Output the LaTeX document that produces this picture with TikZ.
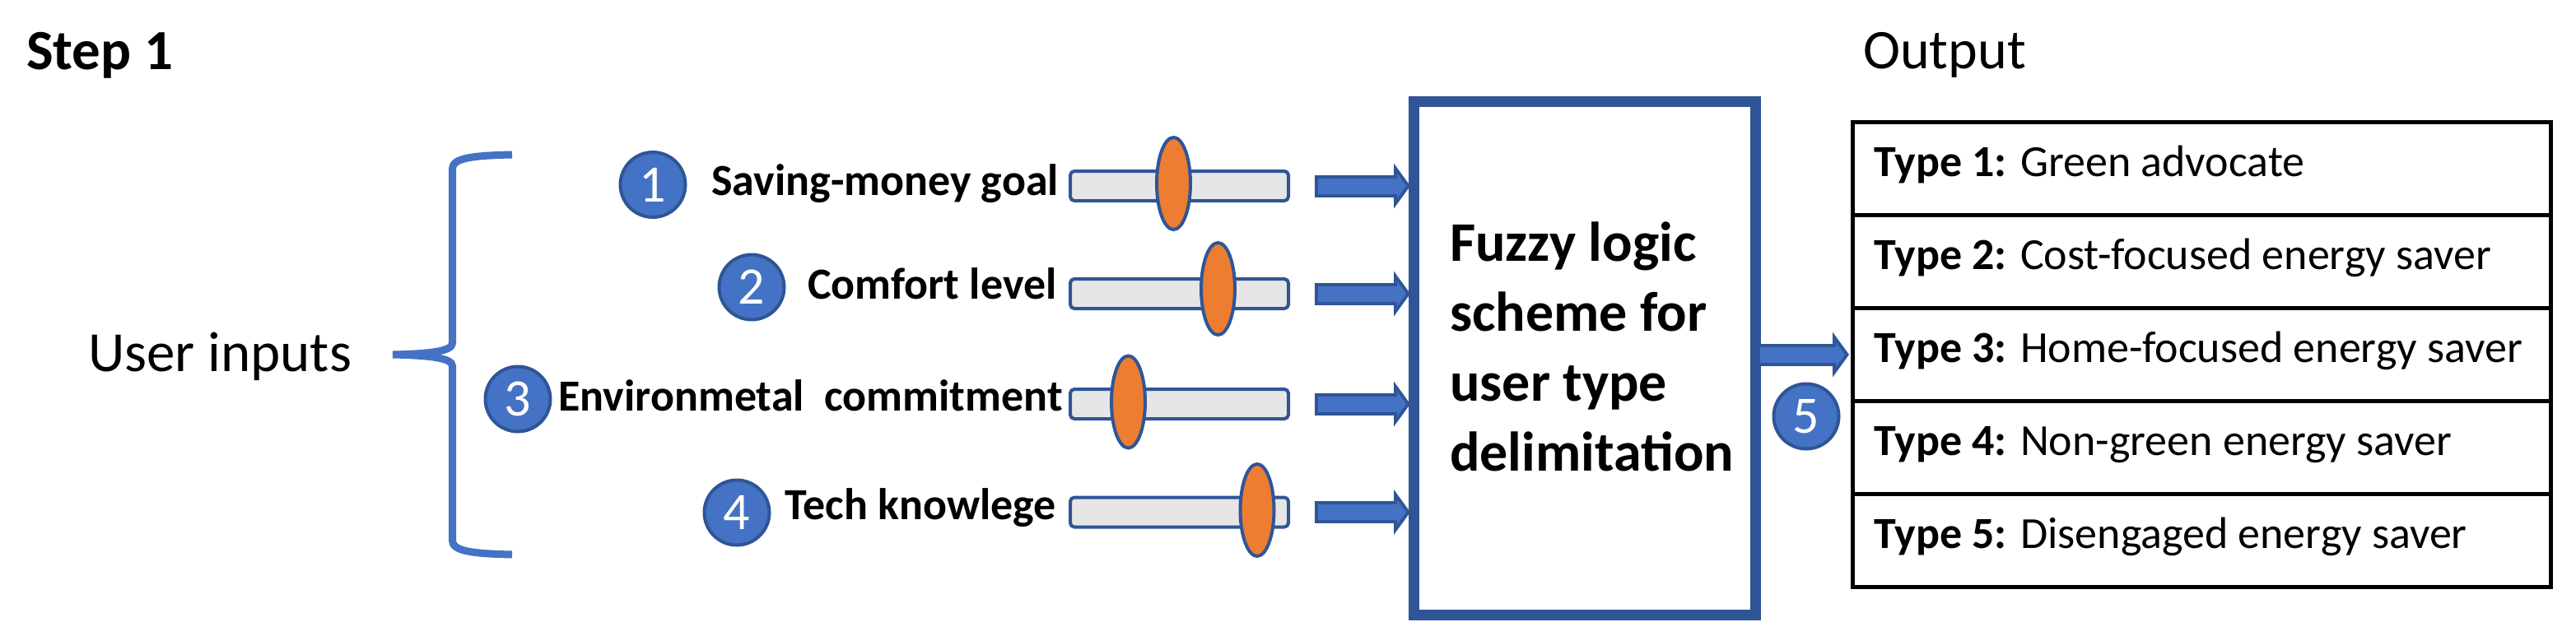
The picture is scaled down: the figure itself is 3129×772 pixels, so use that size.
\documentclass[tikz,border=0pt]{standalone}
\usepackage{fontspec}
\setmainfont{Carlito}
\usetikzlibrary{shapes.geometric,arrows.meta,calc}
\definecolor{myblue}{HTML}{4472C4}
\definecolor{dkblue}{HTML}{2F5597}
\definecolor{myorange}{HTML}{ED7D31}
\definecolor{mygray}{HTML}{E7E6E6}
\begin{document}
\begin{tikzpicture}[x=1pt,y=-1pt,
  numcirc/.style={circle, fill=myblue, draw=dkblue, line width=4pt, minimum size=79pt, inner sep=0pt, text=white, font=\fontsize{64}{70}\selectfont},
  lbl/.style={anchor=base west, inner sep=0pt, font=\fontsize{54}{60}\selectfont\bfseries},
  bigtxt/.style={anchor=base west, inner sep=0pt, font=\fontsize{69}{80}\selectfont},
  sliderbar/.style={rectangle, rounded corners=5pt, fill=mygray, draw=dkblue, line width=4pt, minimum width=265pt, minimum height=36pt, inner sep=0pt, outer sep=2pt},
  knob/.style={ellipse, fill=myorange, draw=dkblue, line width=4pt, minimum width=41pt, minimum height=112pt, inner sep=0pt},
  fuzzybox/.style={rectangle, draw=dkblue, line width=13pt, minimum width=415pt, minimum height=624pt, inner sep=0pt, outer sep=6.5pt},
  trow/.style={rectangle, draw=black, line width=5pt, minimum height=113pt, inner xsep=26pt, inner ysep=0pt, outer sep=2.5pt, text height=36pt, text depth=18pt, font=\fontsize{54}{60}\selectfont},
  arrout/.style={line width=27pt, draw=dkblue, -{Triangle[length=20pt,width=55pt,line width=0pt]}},
  arrin/.style={line width=19pt, draw=myblue, -{Triangle[length=11pt,width=30pt,line width=0pt]}},
  bracestyle/.style={draw=myblue, line width=9pt, line cap=butt}
]
\useasboundingbox (0,0) rectangle (3129,772);

% titles
\node[bigtxt, font=\fontsize{69}{80}\selectfont\bfseries] (step) at (32,84) {Step 1};
\node[bigtxt] (userin) at (107,451) {User inputs};
\node[bigtxt, font=\fontsize{68}{80}\selectfont] (outlbl) at (2263,83) {Output};

% brace
\draw[bracestyle] (622,188) .. controls (575,189) and (549.5,192) .. (549.5,205) -- (549.5,417)
  .. controls (549.5,427) and (522,430) .. (477,431)
  (477,431) .. controls (522,432) and (549.5,435) .. (549.5,445) -- (549.5,657)
  .. controls (549.5,670) and (575,673) .. (622,674);

% numbered circles
\node[numcirc] (c1) at (793,224.5) {1};
\node[numcirc] (c2) at (913,349) {2};
\node[numcirc] (c3) at (629,485) {3};
\node[numcirc] (c4) at (895,623) {4};
\node[numcirc] (c5) at (2194,506) {5};

% labels
\node[lbl] (l1) at (864,237) {Saving-money goal};
\node[lbl] (l2) at (981,363) {Comfort level};
\node[lbl] (l3) at (678,499) {Environmetal\ \ commitment};
\node[lbl] (l4) at (953,631) {Tech knowlege};

% sliders
\node[sliderbar] (b1) at (1432.5,226) {};
\node[sliderbar] (b2) at (1432.5,357) {};
\node[sliderbar] (b3) at (1432.5,491) {};
\node[sliderbar] (b4) at (1432.5,622.5) {};
\node[knob] (k1) at (1425.5,223) {};
\node[knob] (k2) at (1479.5,351) {};
\node[knob] (k3) at (1370.5,488.5) {};
\node[knob] (k4) at (1527,620) {};

% fuzzy box
\node[fuzzybox] (fuzzy) at (1925,435.5) {};
\node[anchor=west, inner sep=0pt, align=left, font=\fontsize{68}{85}\selectfont\bfseries] (fuzzytext) at (1761,421) {Fuzzy logic\\scheme for\\user type\\delimitation};

% output table
\node[trow] (t1) at (2674.5,205) {\makebox[796pt][l]{\textbf{Type 1:} Green advocate}};
\node[trow] (t2) at (2674.5,318) {\makebox[796pt][l]{\textbf{Type 2:} Cost-focused energy saver}};
\node[trow] (t3) at (2674.5,431) {\makebox[796pt][l]{\textbf{Type 3:} Home-focused energy saver}};
\node[trow] (t4) at (2674.5,544) {\makebox[796pt][l]{\textbf{Type 4:} Non-green energy saver}};
\node[trow] (t5) at (2674.5,657) {\makebox[796pt][l]{\textbf{Type 5:} Disengaged energy saver}};

% input arrows
\foreach \b in {b1,b2,b3,b4}{
  \draw[arrout, shorten <=30pt, shorten >=-2pt] (\b.east) -- (\b.east -| fuzzy.west);
  \draw[arrin, shorten <=34pt, shorten >=2.94pt] (\b.east) -- (\b.east -| fuzzy.west);
}
% output arrow
\draw[arrout, shorten <=-5pt, shorten >=2pt] (fuzzy.east |- t3.west) -- (t3.west);
\draw[arrin, shorten <=-1pt, shorten >=6.94pt] (fuzzy.east |- t3.west) -- (t3.west);
\end{tikzpicture}
\end{document}
